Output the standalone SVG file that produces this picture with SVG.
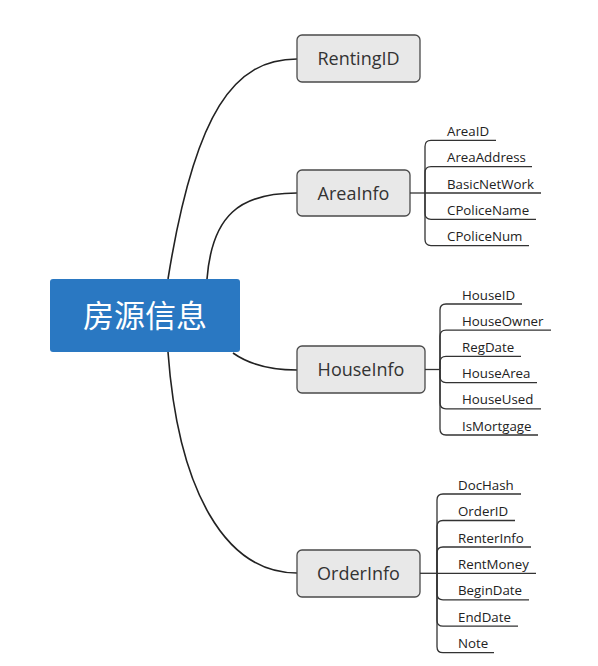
<svg xmlns="http://www.w3.org/2000/svg" width="598" height="666" viewBox="0 0 598 666">
<style>
.node rect{fill:#e8e8e8;stroke:#4a4a4a;stroke-width:1.3}
.node text{font-family:"Open Sans","Liberation Sans",sans-serif;font-size:18px;fill:#333;text-anchor:middle}
.leaf text{font-family:"Open Sans","Liberation Sans",sans-serif;font-size:13.3px;fill:#222}
.conn path{fill:none;stroke:#222;stroke-width:1.6}
.br path{fill:none;stroke:#333;stroke-width:1.3}
</style>
<rect width="598" height="666" fill="#fff"/>
<g id="connectors" class="conn">
<path d="M168,279 C195,110 235,59 297,59"/>
<path d="M207,279 C212,215 240,193 297,193"/>
<path d="M233,353 C250,365 270,370 297,370"/>
<path d="M168,352 C178,490 225,573 297,573"/>
</g>
<g id="root">
<rect x="50" y="279" width="190" height="73" rx="3" fill="#2a78c2"/>
<text x="145" y="327" font-family="Noto Sans CJK SC,sans-serif" font-size="31" fill="#fff" text-anchor="middle">房源信息</text>
</g>
<g id="RentingID" class="node">
<rect x="297" y="35" width="123" height="47" rx="5"/>
<text x="358.5" y="65">RentingID</text>
</g>
<g id="AreaInfo" class="node">
<rect x="297" y="170" width="113" height="46" rx="5"/>
<text x="353.5" y="199.5">AreaInfo</text>
</g>
<g id="HouseInfo" class="node">
<rect x="297" y="346" width="128" height="47" rx="5"/>
<text x="361" y="376">HouseInfo</text>
</g>
<g id="OrderInfo" class="node">
<rect x="297" y="550" width="123" height="47" rx="5"/>
<text x="358.5" y="580">OrderInfo</text>
</g>
<g id="AreaInfo-leaves" class="leaf">
<g class="br">
<path d="M410,193 H425"/>
<path d="M425,193 V146.4 Q425,140.4 431,140.4 H496"/>
<path d="M425,193 V172.7 Q425,166.7 431,166.7 H532"/>
<path d="M425,193 H541"/>
<path d="M425,193 V213.3 Q425,219.3 431,219.3 H536"/>
<path d="M425,193 V239.6 Q425,245.6 431,245.6 H529"/>
</g>
<text x="447" y="136">AreaID</text>
<text x="447" y="162.2">AreaAddress</text>
<text x="447" y="188.5">BasicNetWork</text>
<text x="447" y="214.8">CPoliceName</text>
<text x="447" y="241.1">CPoliceNum</text>
</g>
<g id="HouseInfo-leaves" class="leaf">
<g class="br">
<path d="M425,369.5 H440"/>
<path d="M440,369.5 V310 Q440,304 446,304 H522"/>
<path d="M440,369.5 V336.2 Q440,330.2 446,330.2 H551"/>
<path d="M440,369.5 V362.4 Q440,356.4 446,356.4 H521"/>
<path d="M440,369.5 V376.6 Q440,382.6 446,382.6 H537"/>
<path d="M440,369.5 V402.8 Q440,408.8 446,408.8 H541"/>
<path d="M440,369.5 V429 Q440,435 446,435 H538"/>
</g>
<text x="462" y="299.5">HouseID</text>
<text x="462" y="325.7">HouseOwner</text>
<text x="462" y="351.9">RegDate</text>
<text x="462" y="378.1">HouseArea</text>
<text x="462" y="404.3">HouseUsed</text>
<text x="462" y="430.5">IsMortgage</text>
</g>
<g id="OrderInfo-leaves" class="leaf">
<g class="br">
<path d="M420,573.3 H437"/>
<path d="M437,573.3 V500 Q437,494 443,494 H521"/>
<path d="M437,573.3 V526.5 Q437,520.5 443,520.5 H515"/>
<path d="M437,573.3 V553 Q437,547 443,547 H531"/>
<path d="M437,573.3 H536"/>
<path d="M437,573.3 V593.8 Q437,599.8 443,599.8 H529"/>
<path d="M437,573.3 V620.2 Q437,626.2 443,626.2 H518"/>
<path d="M437,573.3 V646.7 Q437,652.7 443,652.7 H494"/>
</g>
<text x="458" y="489.5">DocHash</text>
<text x="458" y="516">OrderID</text>
<text x="458" y="542.5">RenterInfo</text>
<text x="458" y="568.8">RentMoney</text>
<text x="458" y="595.3">BeginDate</text>
<text x="458" y="621.7">EndDate</text>
<text x="458" y="648.2">Note</text>
</g>
</svg>
